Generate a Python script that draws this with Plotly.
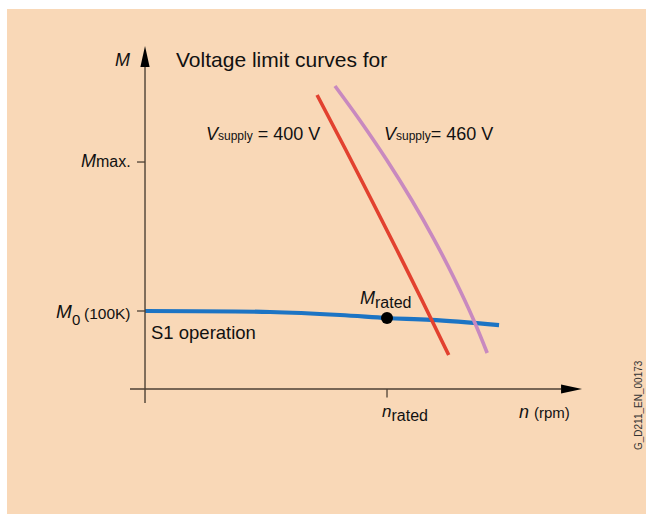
import plotly.graph_objects as go

# ---- data (n in units of n_rated, M in % of M0) ----
n_s1 = [0.0, 0.517, 0.806, 1.0, 1.182, 1.463]
m_s1 = [100.0, 98.7, 94.9, 91.0, 88.5, 82.0]

n_400 = [0.711, 0.830, 0.936, 1.041, 1.144, 1.255]
m_400 = [376.9, 306.4, 242.3, 178.2, 114.1, 43.6]

n_460 = [0.785, 0.887, 0.999, 1.102, 1.196, 1.281, 1.358, 1.414]
m_460 = [388.5, 344.9, 293.6, 242.3, 191.0, 139.7, 88.5, 46.2]

n_rated_pt = [1.0]
m_rated_pt = [91.0]

m_ticks = [291.0, 100.0]      # M_max., M0
n_ticks = [1.0]               # n_rated
n_axis_end = 1.806
m_axis_end = 439.7

W, H = 646, 516
X0, X1 = -0.5992, 2.0702
Y0, Y1 = -162.8, 498.7
pxn = (X1 - X0) / W          # n units per pixel
pxm = (Y1 - Y0) / H          # M units per pixel

FONT = "Liberation Sans, Arial, Helvetica, sans-serif"
AXC = "#4d4034"

fig = go.Figure()
fig.add_trace(go.Scatter(x=n_s1, y=m_s1, mode="lines", line=dict(color="#1c74c4", width=4.2, shape="spline"), hoverinfo="skip"))
fig.add_trace(go.Scatter(x=n_400, y=m_400, mode="lines", line=dict(color="#e2412f", width=3.6, shape="spline"), hoverinfo="skip"))
fig.add_trace(go.Scatter(x=n_460, y=m_460, mode="lines", line=dict(color="#c889bf", width=3.6, shape="spline"), hoverinfo="skip"))
fig.add_trace(go.Scatter(x=n_rated_pt, y=m_rated_pt, mode="markers", marker=dict(color="black", size=12), hoverinfo="skip"))

shapes = []
# background panel
shapes.append(dict(type="rect", xref="paper", yref="paper", x0=7 / W, x1=1, y0=1 - 514 / H, y1=1 - 9 / H,
                   fillcolor="#f9d8b7", line=dict(width=0), layer="below"))
# axes lines
head = 21 * pxm
shapes.append(dict(type="line", xref="x", yref="y", x0=0, x1=0, y0=-18, y1=m_axis_end - head, line=dict(color=AXC, width=1.4)))
headn = 21 * pxn
shapes.append(dict(type="line", xref="x", yref="y", x0=-0.062, x1=n_axis_end - headn, y0=0, y1=0, line=dict(color=AXC, width=1.4)))
# arrowheads
hw = 4.6 * pxn
shapes.append(dict(type="path", xref="x", yref="y",
                   path=f"M {-hw},{m_axis_end - head} L 0,{m_axis_end} L {hw},{m_axis_end - head} Z",
                   fillcolor="black", line=dict(width=0)))
hh = 4.6 * pxm
shapes.append(dict(type="path", xref="x", yref="y",
                   path=f"M {n_axis_end - headn},{-hh} L {n_axis_end},0 L {n_axis_end - headn},{hh} Z",
                   fillcolor="black", line=dict(width=0)))
# ticks
for mt in m_ticks:
    shapes.append(dict(type="line", xref="x", yref="y", x0=-8 * pxn, x1=0, y0=mt, y1=mt, line=dict(color=AXC, width=1.3)))
for nt in n_ticks:
    shapes.append(dict(type="line", xref="x", yref="y", x0=nt, x1=nt, y0=0, y1=-8.5 * pxm, line=dict(color=AXC, width=1.3)))


def P(px, py):
    return px / W, 1 - py / H


anns = []


def txt(text, px, py, size=18, xanchor="left", yanchor="middle", angle=0, color="#111111"):
    x, y = P(px, py)
    anns.append(dict(text=text, x=x, y=y, xref="paper", yref="paper", showarrow=False,
                     xanchor=xanchor, yanchor=yanchor, textangle=angle,
                     font=dict(family=FONT, size=size, color=color)))


txt("<i>M</i>", 132, 60, size=18, xanchor="right")
txt("Voltage limit curves for", 174, 60, size=21)
txt("<i>V</i><span style='font-size:12px'>supply</span> = 400 V", 204, 134, size=18)
txt("<i>V</i><span style='font-size:12px'>supply</span>= 460 V", 382, 134, size=18)
txt("<i>M</i><span style='font-size:16px'>max.</span>", 133, 161, size=18, xanchor="right")
txt("<i>M</i>", 54, 311, size=19)
txt("0", 70, 319, size=15)
txt("(100K)", 133, 313, size=15.5, xanchor="right")
txt("S1 operation", 149, 332, size=18.5)
txt("<i>M</i><sub><span style='font-size:16px'>rated</span></sub>", 358, 299, size=18)
txt("<i>n</i><sub><span style='font-size:16px'>rated</span></sub>", 380, 413, size=17)
txt("<i>n</i> <span style='font-size:15px'>(rpm)</span>", 517, 412, size=18)
txt("G_D211_EN_00173", 638, 405, size=10, xanchor="center", angle=-90, color="#333333")

fig.update_layout(
    width=W, height=H, margin=dict(l=0, r=0, t=0, b=0),
    paper_bgcolor="white", plot_bgcolor="rgba(0,0,0,0)",
    showlegend=False, shapes=shapes, annotations=anns,
    xaxis=dict(range=[X0, X1], visible=False, fixedrange=True),
    yaxis=dict(range=[Y0, Y1], visible=False, fixedrange=True),
)
fig.write_html("out.html", config={"displayModeBar": False},
               post_script="document.body.style.margin='0px';")
